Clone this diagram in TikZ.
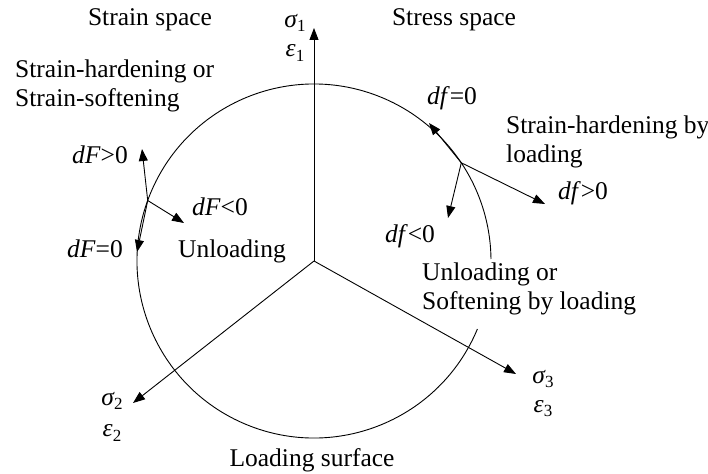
\documentclass[tikz,border=0pt]{standalone}
\usepackage{fontspec}
\setmainfont{Liberation Serif}
\usetikzlibrary{arrows.meta,calc}
\newcommand{\symsub}[2]{{\itshape #1}\raisebox{-0.35ex}{\fontsize{17}{17}\selectfont #2}}
\begin{document}
\begin{tikzpicture}[x=1pt,y=-1pt,
  lbl/.style={inner sep=0pt,font=\fontsize{25.5}{28.5}\selectfont},
  ar/.style={line width=0.9pt,-{Triangle[length=12pt,width=9pt]}},
  ln/.style={line width=0.9pt}]
\useasboundingbox (0,0) rectangle (708,473);
% geometry
\coordinate (O) at (314,261);
\coordinate (P) at (461.3,162.8);
\coordinate (Q) at (147.7,200.5);
\coordinate (A1) at (314,28);
\coordinate (A2) at (133,403);
\coordinate (A3) at (516,374);
\coordinate (Pt) at (429,123);
\coordinate (Pp) at (545,204);
\coordinate (Pm) at (448,218);
\coordinate (Qt) at (137,252);
\coordinate (Qp) at (142,149);
\coordinate (Qm) at (184,223);
% loading surface (part hidden behind label)
\draw[ln] ($(O)+(22.6:177)$) arc[start angle=22.6,end angle=359.35,radius=177];
% axes
\draw[ar] (O) -- (A1);
\draw[ar] (O) -- (A2);
\draw[ar] (O) -- (A3);
% direction arrows
\draw[ar] (P) -- (Pt);
\draw[ar] (P) -- (Pp);
\draw[ar] (P) -- (Pm);
\draw[ar] (Q) -- (Qt);
\draw[ar] (Q) -- (Qp);
\draw[ar] (Q) -- (Qm);
% labels
\node[lbl] (strain) at (150,20) {Strain space};
\node[lbl] (stress) at (454,20) {Stress space};
\node[lbl] (s1) at (295,23) {\symsub{σ}{1}};
\node[lbl] (e1) at (295,53) {\symsub{ε}{1}};
\node[lbl] (s2) at (112,401) {\symsub{σ}{2}};
\node[lbl] (e2) at (112,433) {\symsub{ε}{2}};
\node[lbl] (s3) at (543,379) {\symsub{σ}{3}};
\node[lbl] (e3) at (543,409) {\symsub{ε}{3}};
\node[lbl,anchor=west,align=left] (shs) at (15,86) {Strain-hardening or\\Strain-softening};
\node[lbl] (dFp) at (100,155) {\textit{dF}>0};
\node[lbl] (dFm) at (220,207) {\textit{dF}<0};
\node[lbl] (dFz) at (95,249) {\textit{dF}=0};
\node[lbl] (unl) at (232,251) {Unloading};
\node[lbl] (dfz) at (452,98) {\textit{df}=0};
\node[lbl,anchor=west,align=left] (shl) at (506,142) {Strain-hardening by\\loading};
\node[lbl] (dfp) at (583,193) {\textit{df}>0};
\node[lbl] (dfm) at (410,236) {\textit{df}<0};
\node[lbl,anchor=west,align=left] (uos) at (422,289) {Unloading or\\Softening by loading};
\node[lbl] (ls) at (312,460) {Loading surface};
\end{tikzpicture}
\end{document}
